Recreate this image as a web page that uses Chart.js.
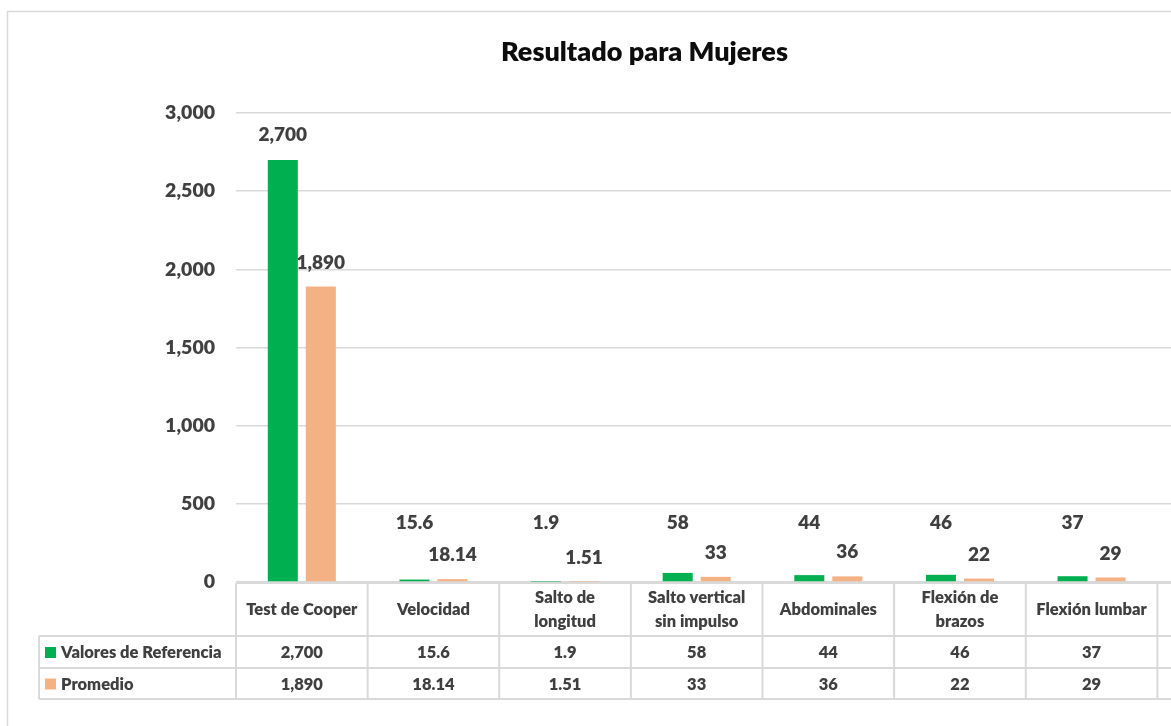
<!DOCTYPE html>
<html>
<head>
<meta charset="utf-8">
<script src="https://cdn.jsdelivr.net/npm/chart.js@4.4.1/dist/chart.umd.min.js"></script>
<style>
  html, body { margin: 0; padding: 0; background: #ffffff; overflow: hidden; }
  #wrap { width: 1171px; height: 726px; overflow: hidden; position: relative; }
  canvas { display: block; }
</style>
</head>
<body>
<div id="wrap"><canvas id="c" width="1289" height="726"></canvas></div>
<script>
// ---- data ----
const categories = ["Test de Cooper", "Velocidad", "Salto de\nlongitud", "Salto vertical\nsin impulso", "Abdominales", "Flexión de\nbrazos", "Flexión lumbar", ""];
const seriesNames = ["Valores de Referencia", "Promedio"];
const valoresReferencia = [2700, 15.6, 1.9, 58, 44, 46, 37, null];
const promedio = [1890, 18.14, 1.51, 33, 36, 22, 29, null];
const yTicks = [0, 500, 1000, 1500, 2000, 2500, 3000];
const titleText = "Resultado para Mujeres";

const GREEN = "#00B050";
const ORANGE = "#F4B183";
const TEXT = "#404040";
const LINE = "#d9d9d9";
const FONT = "Lato, 'Open Sans', sans-serif";
const W = "800";

const fmt = v => v.toLocaleString("en-US", { maximumFractionDigits: 2 });

const tablePlugin = {
  id: "excelExtras",
  beforeDraw(chart) {
    const ctx = chart.ctx;
    ctx.save();
    ctx.strokeStyle = LINE;
    ctx.lineWidth = 1.5;
    ctx.strokeRect(7.5, 11.5, chart.width + 50, chart.height + 50);
    ctx.restore();
  },
  afterDatasetsDraw(chart) {
    const ctx = chart.ctx;
    const area = chart.chartArea;
    const xs = chart.scales.x;
    const zeroY = chart.scales.y.getPixelForValue(0);
    // data labels
    ctx.save();
    ctx.font = W + " 19px " + FONT;
    ctx.fillStyle = TEXT;
    ctx.textAlign = "center";
    ctx.textBaseline = "middle";
    chart.data.datasets.forEach((ds, di) => {
      const meta = chart.getDatasetMeta(di);
      meta.data.forEach((bar, i) => {
        const v = ds.data[i];
        if (v === null || v === undefined) return;
        let y;
        if (di === 0) y = Math.min(bar.y - 25, zeroY - 59);
        else y = bar.y - 24;
        ctx.fillText(fmt(v), bar.x, y);
      });
    });
    ctx.restore();

    // data table
    const n = categories.length;
    const colW = xs.width / n;
    const left = area.left;
    const tTop = zeroY + 1;
    const hBot = tTop + 53;
    const r1Bot = hBot + 32;
    const r2Bot = r1Bot + 31;
    const labelLeft = 39;
    ctx.save();
    ctx.strokeStyle = LINE;
    ctx.lineWidth = 2;
    ctx.beginPath();
    ctx.moveTo(left, tTop); ctx.lineTo(chart.width, tTop);
    [hBot, r1Bot, r2Bot].forEach(y => { ctx.moveTo(labelLeft, y); ctx.lineTo(chart.width, y); });
    for (let i = 0; i <= n; i++) {
      const x = left + i * colW;
      ctx.moveTo(x, tTop); ctx.lineTo(x, r2Bot);
    }
    ctx.moveTo(labelLeft, hBot); ctx.lineTo(labelLeft, r2Bot);
    ctx.stroke();

    ctx.fillStyle = TEXT;
    ctx.textAlign = "center";
    ctx.textBaseline = "middle";
    ctx.font = W + " 16.5px " + FONT;
    categories.forEach((c, i) => {
      const cx = xs.getPixelForValue(i);
      const lines = c.split("\n");
      const lh = 24;
      const cy = (tTop + hBot) / 2;
      lines.forEach((ln, k) => {
        ctx.fillText(ln, cx, cy + (k - (lines.length - 1) / 2) * lh);
      });
      const a = valoresReferencia[i], b = promedio[i];
      if (a !== null) ctx.fillText(fmt(a), cx, (hBot + r1Bot) / 2 + 1);
      if (b !== null) ctx.fillText(fmt(b), cx, (r1Bot + r2Bot) / 2 + 1);
    });
    // legend keys
    ctx.textAlign = "left";
    [[GREEN, (hBot + r1Bot) / 2], [ORANGE, (r1Bot + r2Bot) / 2]].forEach((p, k) => {
      ctx.fillStyle = p[0];
      ctx.fillRect(45, p[1] - 5, 11, 11);
      ctx.fillStyle = TEXT;
      ctx.fillText(seriesNames[k], 61, p[1] + 1);
    });
    ctx.restore();
  }
};

new Chart(document.getElementById("c"), {
  type: "bar",
  data: {
    labels: categories,
    datasets: [
      { label: seriesNames[0], data: valoresReferencia, backgroundColor: GREEN, barPercentage: 0.79, categoryPercentage: 0.5775 },
      { label: seriesNames[1], data: promedio, backgroundColor: ORANGE, barPercentage: 0.79, categoryPercentage: 0.5775 }
    ]
  },
  options: {
    responsive: false,
    animation: false,
    layout: { padding: { top: 0, left: 0, right: 0, bottom: 144 } },
    plugins: {
      legend: { display: false },
      tooltip: { enabled: false },
      title: {
        display: true,
        text: titleText,
        color: "#0d0d0d",
        font: { family: FONT, size: 27, weight: W, lineHeight: 1.2 },
        padding: { top: 35.8, bottom: 44.8 }
      }
    },
    scales: {
      x: { display: false },
      y: {
        min: 0,
        max: 3000,
        afterFit(scale) { scale.width = 236; },
        afterBuildTicks(scale) { scale.ticks = yTicks.map(v => ({ value: v })); },
        ticks: {
          padding: 21,
          color: TEXT,
          font: { family: FONT, size: 19.5, weight: W },
          callback: v => fmt(v)
        },
        grid: { color: LINE, lineWidth: 1.5, drawTicks: false },
        border: { display: false }
      }
    }
  },
  plugins: [tablePlugin]
});
</script>
</body>
</html>
